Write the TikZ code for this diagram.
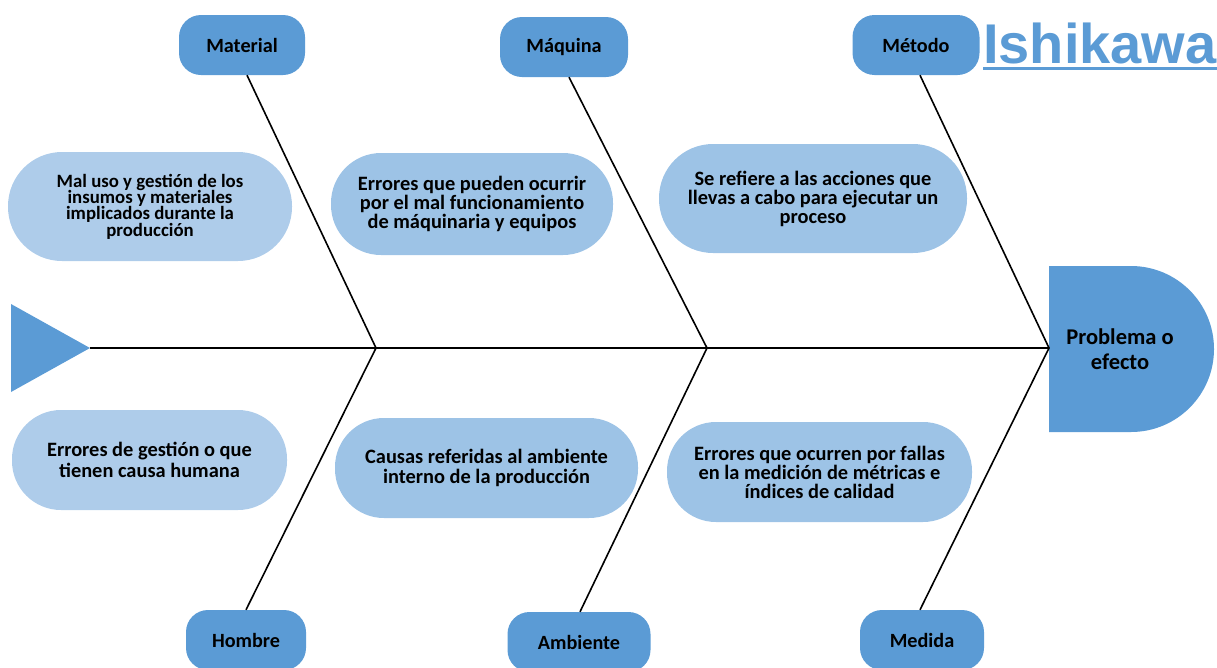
\documentclass[tikz,border=0pt]{standalone}
\usepackage{fontspec}
\setmainfont{Carlito}
\newfontfamily\titlefont{Liberation Sans}
\definecolor{boneblue}{HTML}{5B9BD5}
\definecolor{notelight}{HTML}{AECCEA}
\definecolor{noteblue}{HTML}{9DC3E6}
\begin{document}
\begin{tikzpicture}[x=1pt,y=-1pt,
  cause/.style={fill=boneblue, rounded corners=22pt, inner sep=0pt,
    minimum height=60pt, font=\bfseries\fontsize{20.2}{23}\selectfont},
  note/.style={fill=noteblue, inner sep=0pt, align=center,
    font=\bfseries\fontsize{20.4}{19}\selectfont},
  bone/.style={line width=1.6pt, black}]
\useasboundingbox (0,0) rectangle (1217,667);

% title
\node[anchor=base west, inner sep=0pt, text=boneblue,
  font=\titlefont\bfseries\fontsize{56}{60}\selectfont] (title) at (983,63) {Ishikawa};
\draw[boneblue, line width=3pt] ([yshift=-5pt]title.base west) -- ([yshift=-5pt]title.base east);

% spine, tail and head
\coordinate (tip) at (90,348);
\coordinate (j1) at (376,348);
\coordinate (j2) at (707,348);
\coordinate (hd) at (1049,348);
\fill[boneblue] (11,304) -- (tip) -- (11,392) -- cycle;
\fill[boneblue] (1049,266) -- (1131,266) arc[start angle=-90, end angle=90, radius=83] -- (1049,432) -- cycle;
\node[align=center, font=\bfseries\fontsize{22.5}{25}\selectfont] (head) at (1120,349) {Problema o\\efecto};
\draw[bone] (tip) -- (hd);

% category boxes
\node[cause, minimum width=126pt] (mat) at (242,45) {Material};
\node[cause, minimum width=128pt] (maq) at (564,47) {Máquina};
\node[cause, minimum width=127pt] (met) at (916,45) {Método};
\node[cause, minimum width=120pt] (hom) at (246,640) {Hombre};
\node[cause, minimum width=143pt] (amb) at (579,642) {Ambiente};
\node[cause, minimum width=124pt] (med) at (922,640) {Medida};

% bones
\draw[bone] ([xshift=5pt]mat.south) -- (j1) -- (hom.north);
\draw[bone] ([xshift=5pt]maq.south) -- (j2) -- ([xshift=1pt]amb.north);
\draw[bone] ([xshift=4pt]met.south) -- (hd) -- ([xshift=-2pt]med.north);

% descriptions
\node[note, fill=notelight, minimum width=284pt, minimum height=109pt, rounded corners=54pt,
  font=\bfseries\fontsize{18.8}{16.4}\selectfont] (d1) at (150,206.5)
  {Mal uso y gestión de los\\insumos y materiales\\implicados durante la\\producción};
\node[note, minimum width=282pt, minimum height=102pt, rounded corners=50pt] (d2) at (472,204)
  {Errores que pueden ocurrir\\por el mal funcionamiento\\de máquinaria y equipos};
\node[note, minimum width=308pt, minimum height=109pt, rounded corners=54pt] (d3) at (813,198.5)
  {Se refiere a las acciones que\\llevas a cabo para ejecutar un\\proceso};
\node[note, fill=notelight, minimum width=275pt, minimum height=100pt, rounded corners=49pt,
  font=\bfseries\fontsize{20.4}{21.5}\selectfont] (d4) at (149.5,460)
  {Errores de gestión o que\\tienen causa humana};
\node[note, minimum width=303pt, minimum height=100pt, rounded corners=49pt,
  font=\bfseries\fontsize{20.4}{20}\selectfont] (d5) at (486.5,468)
  {Causas referidas al ambiente\\interno de la producción};
\node[note, minimum width=305pt, minimum height=100pt, rounded corners=49pt] (d6) at (819.5,472)
  {Errores que ocurren por fallas\\en la medición de métricas e\\índices de calidad};
\end{tikzpicture}
\end{document}
